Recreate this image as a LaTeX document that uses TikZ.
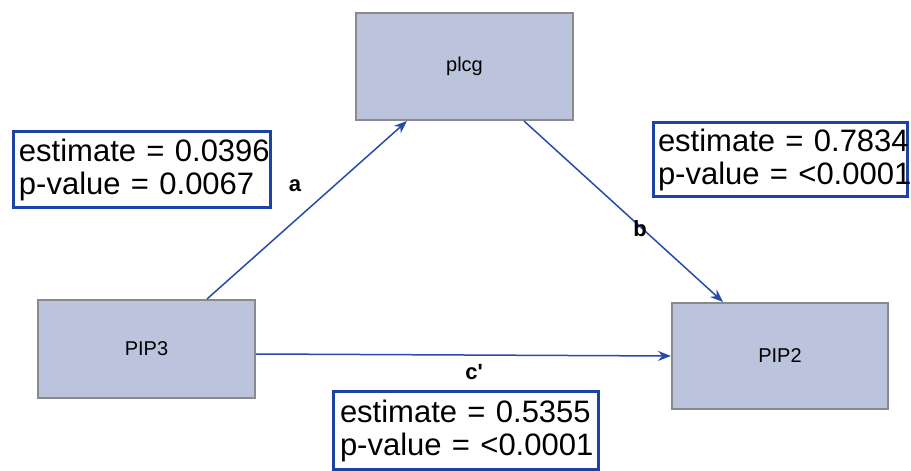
\documentclass[tikz,border=0pt]{standalone}
\usepackage{fontspec}
\setmainfont{Liberation Sans}
\usetikzlibrary{arrows.meta}
\definecolor{boxfill}{RGB}{188,195,221}
\definecolor{boxline}{RGB}{138,138,138}
\definecolor{statline}{RGB}{30,65,165}
\definecolor{arrowc}{RGB}{40,75,170}
\tikzset{
  varbox/.style={draw=boxline, line width=2pt, fill=boxfill, font=\fontsize{20}{22}\selectfont, inner sep=0pt},
  statbox/.style={draw=statline, line width=3pt, fill=white, font=\fontsize{31}{33}\selectfont, align=left, inner ysep=0pt, inner xsep=6pt},
  conn/.style={draw=arrowc, line width=1.5pt, -{Stealth[length=13pt,width=10pt]}},
  lab/.style={font=\bfseries\fontsize{22}{24}\selectfont, inner sep=0pt}
}
\begin{document}
\begin{tikzpicture}[x=1pt,y=1pt]
\useasboundingbox (0,0) rectangle (911,471);
\node[varbox, minimum width=217pt, minimum height=107pt] (plcg) at (464.5,404.5) {plcg};
\node[varbox, minimum width=217pt, minimum height=98pt] (pip3) at (146.5,122) {PIP3};
\node[varbox, minimum width=216pt, minimum height=106pt] (pip2) at (780,115) {PIP2};

\node[statbox, text width=245pt, minimum height=76pt] (s1) at (141.5,301) {\mbox{estimate = 0.0396}\\\mbox{p-value = 0.0067}};
\node[statbox, text width=244pt, minimum height=74pt, inner xsep=5pt] (s2) at (780,311) {\mbox{estimate = 0.7834}\\\mbox{p-value = <0.0001}};
\node[statbox, text width=251pt, minimum height=78pt, inner xsep=7pt] (s3) at (465.5,40) {\mbox{estimate = 0.5355}\\\mbox{p-value = <0.0001}};

\draw[conn] ([xshift=60.5pt]pip3.north) -- ([xshift=-57.5pt]plcg.south);
\draw[conn] ([xshift=59.5pt]plcg.south) -- ([xshift=-57pt]pip2.north);
\draw[conn] ([yshift=-5pt]pip3.east) -- (pip2.west);

\node[lab] (la) at (295,285) {a};
\node[lab] (lb) at (640,242) {b};
\node[lab] (lc) at (474,99) {c\textquotesingle};
\end{tikzpicture}
\end{document}
